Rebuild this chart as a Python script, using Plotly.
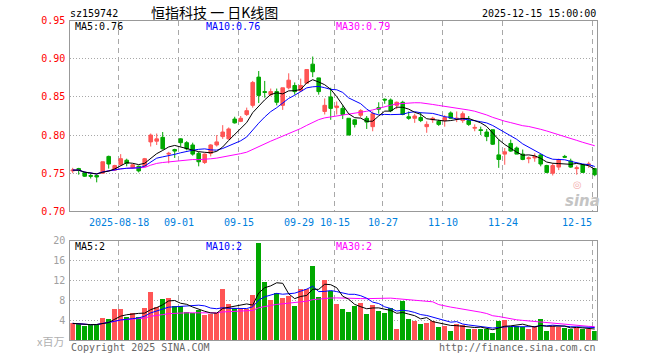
import plotly.graph_objects as go
import pandas as pd

# ---------------- data ----------------
code = "sz159742"
title = "恒指科技 一 日K线图"
timestamp = "2025-12-15 15:00:00"

open_ = [0.753, 0.756, 0.751, 0.747, 0.747, 0.750, 0.772, 0.754, 0.761, 0.767,
         0.757, 0.759, 0.759, 0.791, 0.792, 0.797, 0.775, 0.781, 0.795, 0.790,
         0.787, 0.776, 0.764, 0.776, 0.787, 0.798, 0.795, 0.821, 0.818, 0.827,
         0.839, 0.876, 0.857, 0.853, 0.857, 0.839, 0.862, 0.865, 0.858, 0.868,
         0.893, 0.875, 0.831, 0.850, 0.836, 0.835, 0.822, 0.820, 0.826, 0.822,
         0.811, 0.836, 0.847, 0.846, 0.839, 0.843, 0.824, 0.822, 0.823, 0.811,
         0.820, 0.818, 0.819, 0.829, 0.821, 0.819, 0.819, 0.809, 0.807, 0.804,
         0.807, 0.774, 0.775, 0.789, 0.783, 0.775, 0.769, 0.770, 0.774, 0.760,
         0.750, 0.758, 0.772, 0.766, 0.756, 0.761, 0.761, 0.756]
high = [0.757, 0.757, 0.752, 0.749, 0.748, 0.765, 0.773, 0.761, 0.775, 0.769,
        0.762, 0.760, 0.770, 0.802, 0.802, 0.804, 0.778, 0.782, 0.796, 0.792,
        0.790, 0.778, 0.776, 0.788, 0.800, 0.813, 0.810, 0.824, 0.825, 0.836,
        0.871, 0.884, 0.871, 0.861, 0.861, 0.862, 0.881, 0.869, 0.874, 0.886,
        0.903, 0.875, 0.848, 0.862, 0.844, 0.839, 0.822, 0.821, 0.834, 0.825,
        0.831, 0.843, 0.848, 0.848, 0.844, 0.845, 0.831, 0.828, 0.830, 0.818,
        0.824, 0.820, 0.826, 0.831, 0.831, 0.831, 0.825, 0.814, 0.811, 0.808,
        0.807, 0.794, 0.783, 0.794, 0.785, 0.781, 0.772, 0.776, 0.775, 0.761,
        0.763, 0.769, 0.774, 0.769, 0.760, 0.762, 0.765, 0.757]
low = [0.750, 0.748, 0.745, 0.743, 0.738, 0.749, 0.756, 0.753, 0.760, 0.759,
       0.756, 0.751, 0.758, 0.785, 0.787, 0.781, 0.763, 0.770, 0.785, 0.780,
       0.773, 0.759, 0.762, 0.772, 0.785, 0.795, 0.794, 0.815, 0.817, 0.825,
       0.836, 0.842, 0.849, 0.851, 0.839, 0.833, 0.860, 0.853, 0.857, 0.868,
       0.876, 0.853, 0.827, 0.820, 0.827, 0.821, 0.800, 0.810, 0.823, 0.808,
       0.805, 0.828, 0.841, 0.830, 0.834, 0.826, 0.820, 0.816, 0.817, 0.803,
       0.816, 0.812, 0.811, 0.821, 0.817, 0.816, 0.812, 0.805, 0.800, 0.792,
       0.787, 0.757, 0.761, 0.778, 0.775, 0.767, 0.763, 0.765, 0.759, 0.750,
       0.747, 0.754, 0.770, 0.757, 0.748, 0.751, 0.757, 0.746]
close = [0.754, 0.754, 0.746, 0.746, 0.745, 0.765, 0.762, 0.760, 0.769, 0.763,
         0.761, 0.753, 0.769, 0.800, 0.795, 0.782, 0.776, 0.779, 0.790, 0.782,
         0.775, 0.765, 0.775, 0.787, 0.791, 0.804, 0.808, 0.816, 0.822, 0.832,
         0.869, 0.852, 0.856, 0.857, 0.843, 0.862, 0.872, 0.857, 0.865, 0.886,
         0.883, 0.857, 0.839, 0.835, 0.838, 0.827, 0.800, 0.814, 0.832, 0.817,
         0.828, 0.834, 0.846, 0.832, 0.843, 0.827, 0.822, 0.825, 0.819, 0.814,
         0.822, 0.814, 0.823, 0.822, 0.822, 0.828, 0.814, 0.810, 0.806, 0.798,
         0.788, 0.768, 0.778, 0.779, 0.775, 0.768, 0.770, 0.772, 0.762, 0.751,
         0.760, 0.768, 0.771, 0.758, 0.757, 0.751, 0.762, 0.748]
# volume in millions of shares
volume = [3.4, 3.2, 2.9, 3.06, 3.26, 4.4, 4.2, 6.2, 6.2, 4.65,
          5.4, 4.6, 6.46, 9.66, 6.7, 8.26, 8.46, 6.86, 6.9, 5.66,
          5.53, 6.06, 5.0, 5.26, 5.4, 10.26, 7.3, 6.4, 6.26, 6.3,
          9.06, 19.5, 11.66, 8.13, 9.4, 8.53, 8.93, 6.86, 10.33, 10.33,
          14.86, 8.73, 12.06, 9.86, 7.3, 6.3, 5.73, 6.86, 7.53, 5.26,
          7.06, 5.86, 5.46, 6.46, 2.26, 7.86, 4.26, 3.86, 3.26, 3.53,
          3.86, 2.73, 2.93, 1.86, 3.33, 3.06, 2.33, 2.26, 2.26, 2.33,
          1.53, 3.93, 4.06, 2.66, 2.8, 2.73, 2.33, 2.8, 4.26, 1.93,
          2.86, 2.73, 2.53, 2.33, 2.53, 2.33, 2.2, 1.93]

tick_index = [8, 18, 28, 38, 44, 52, 62, 72, 87]
tick_labels = ["2025-08-18", "09-01", "09-15", "09-29", "10-15",
               "10-27", "11-10", "11-24", "12-15"]
price_ticks = [0.70, 0.75, 0.80, 0.85, 0.90, 0.95]
volume_ticks = [4, 8, 12, 16, 20]

# ---------------- styling ----------------
W, H = 660, 360
RED = "#ff5555"
GREEN = "#00a800"
MONO = "DejaVu Sans Mono"
CJK = "Noto Sans CJK SC"
GRID = "#a8a8a8"
BORDER = "#999999"

def fx(px):
    return px / W

def fy(py):
    return 1 - py / H

idx = list(range(len(close)))
s_close = pd.Series(close)
s_vol = pd.Series(volume)
ma_price = {n: s_close.rolling(n, min_periods=1).mean() for n in (5, 10, 30)}
ma_vol = {n: s_vol.rolling(n, min_periods=1).mean() for n in (5, 10, 30)}
ma_colors = {5: "#000000", 10: "#0000ff", 30: "#ff00ff"}

bar_colors = [RED if c >= o else GREEN for o, c in zip(open_, close)]
grid_x = [i - 0.35 for i in tick_index]

fig = go.Figure()
fig.add_trace(go.Candlestick(
    x=idx, open=open_, high=high, low=low, close=close,
    increasing=dict(line=dict(color=RED, width=1), fillcolor=RED),
    decreasing=dict(line=dict(color=GREEN, width=1), fillcolor=GREEN),
    whiskerwidth=0, xaxis="x", yaxis="y", hoverinfo="skip"))
for n in (30, 10, 5):
    fig.add_trace(go.Scatter(x=idx, y=ma_price[n], mode="lines",
                             line=dict(color=ma_colors[n], width=1),
                             xaxis="x", yaxis="y", hoverinfo="skip"))
fig.add_trace(go.Bar(x=idx, y=volume, marker=dict(color=bar_colors, line=dict(width=0)),
                     width=0.84, xaxis="x2", yaxis="y2", hoverinfo="skip"))
for n in (30, 10, 5):
    fig.add_trace(go.Scatter(x=idx, y=ma_vol[n], mode="lines",
                             line=dict(color=ma_colors[n], width=1),
                             xaxis="x2", yaxis="y2", hoverinfo="skip"))

xr = [-0.4, 87.33]
xdom = [fx(70.3), fx(596.7)]
common_x = dict(range=xr, domain=xdom, tickvals=grid_x, showticklabels=False,
                ticks="", showgrid=True, gridcolor=GRID, griddash="5px,4px",
                gridwidth=1, zeroline=False, showline=True, mirror=True,
                linecolor=BORDER, linewidth=1, fixedrange=True, automargin=False)
common_y = dict(ticks="", showgrid=True, gridcolor=GRID, griddash="1px,2px",
                zeroline=False, showline=True, mirror=True, linecolor=BORDER,
                linewidth=1, ticklabelstandoff=2, automargin=False, fixedrange=True)
fig.update_layout(
    width=W, height=H, autosize=False,
    margin=dict(l=0, r=0, t=0, b=0, pad=0, autoexpand=False),
    paper_bgcolor="white", plot_bgcolor="white", showlegend=False,
    boxgap=0.15, bargap=0,
    xaxis=dict(anchor="y", rangeslider=dict(visible=False), **common_x),
    xaxis2=dict(anchor="y2", matches="x", **common_x),
    yaxis=dict(domain=[fy(211.3), fy(20.7)], range=[0.70, 0.95],
               tickvals=price_ticks, ticktext=[f"{v:.2f}" for v in price_ticks],
               tickfont=dict(family=MONO, size=10, color="#ff0000"), **common_y),
    yaxis2=dict(domain=[fy(340.3), fy(240.7)], range=[0, 20],
                tickvals=volume_ticks, ticktext=[str(v) for v in volume_ticks],
                tickfont=dict(family=MONO, size=10, color="#a0a0a0"), **common_y),
)

ann = []
def text(x, y, s, color="#000", size=10, family=MONO, xanchor="left", xref="paper"):
    ann.append(dict(x=x, y=y, xref=xref, yref="paper", text=s, showarrow=False,
                    xanchor=xanchor, yanchor="middle", borderpad=0,
                    font=dict(family=family, size=size, color=color)))

# header
text(fx(69), fy(13.5), code)
text(fx(214), fy(12.5), title, size=14, family=CJK, xanchor="center")
text(fx(597), fy(13.5), timestamp, xanchor="right")
# price MA labels
text(fx(74), fy(26.5), f"MA5:{ma_price[5].iloc[-1]:.2f}", color=ma_colors[5])
text(fx(204.5), fy(26.5), f"MA10:{ma_price[10].iloc[-1]:.2f}", color=ma_colors[10])
text(fx(334.5), fy(26.5), f"MA30:{ma_price[30].iloc[-1]:.2f}", color=ma_colors[30])
# volume MA labels
text(fx(74), fy(246.5), f"MA5:{int(ma_vol[5].iloc[-1])}", color=ma_colors[5])
text(fx(204.5), fy(246.5), f"MA10:{int(ma_vol[10].iloc[-1])}", color=ma_colors[10])
text(fx(334.5), fy(246.5), f"MA30:{int(ma_vol[30].iloc[-1])}", color=ma_colors[30])
# x tick labels under price chart
for i, (gx, lab) in enumerate(zip(grid_x, tick_labels)):
    last = i == len(tick_labels) - 1
    text(gx, fy(222), lab, color="#0080dd", xanchor="right" if last else "center", xref="x")
# unit + footer
text(fx(65), fy(341), "x百万", color="#b0b0b0", size=11, family=CJK, xanchor="right")
text(fx(70), fy(347), "Copyright 2025 SINA.COM", color="#666666")
text(fx(597), fy(347), "http://finance.sina.com.cn", color="#666666", xanchor="right")
# sina watermark
text(fx(582), fy(201), "<b><i>sina</i></b>", color="#c4c4c4", size=15, family="DejaVu Sans", xanchor="center")
text(fx(577), fy(185), "◎", color="#f4b0b0", size=10, family="DejaVu Sans", xanchor="center")

fig.update_layout(annotations=ann)
fig.write_html("out.html", config={"displayModeBar": False, "staticPlot": True},
               post_script="document.body.style.margin='0';document.body.style.overflow='hidden';")
